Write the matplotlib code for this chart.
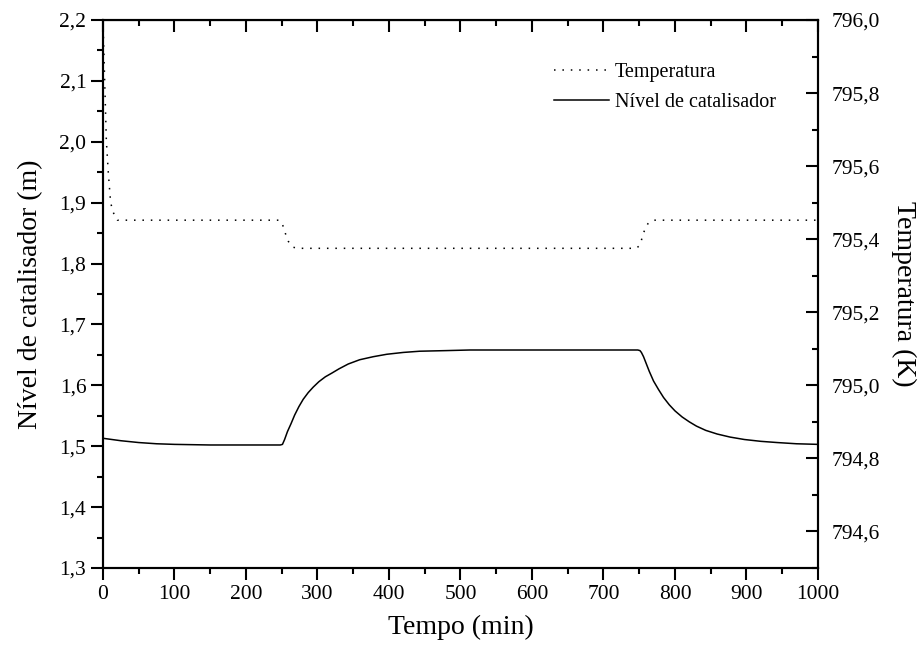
import matplotlib
matplotlib.use("Agg")
import matplotlib.pyplot as plt
import numpy as np
from matplotlib.ticker import FuncFormatter, MultipleLocator

plt.rcParams['font.family'] = ['Liberation Serif', 'DejaVu Serif']

# temperature (K)
temp_t = [0, 2.4, 4.7, 7.5, 10.7, 14, 17, 20, 246, 250, 253, 256, 259, 262, 266, 272,
          746, 750, 753, 756, 759, 762, 766, 772, 1000]
temp_k = [796.0, 795.83, 795.67, 795.58, 795.50, 795.475, 795.462, 795.452, 795.452,
          795.445, 795.43, 795.41, 795.395, 795.385, 795.378, 795.375,
          795.375, 795.382, 795.397, 795.417, 795.432, 795.442, 795.449, 795.452, 795.452]

# catalyst level (m)
lvl_t = [0, 25, 50, 75, 100, 150, 200, 248, 251, 254, 258, 263, 268, 274, 280, 287, 294,
         302, 311, 320, 330, 343, 359, 378, 397, 420, 443, 480, 513, 569, 650, 748,
         751, 753, 756, 759, 764, 770, 777, 784, 792, 800, 810, 820, 830, 843, 859, 877,
         897, 920, 943, 970, 1000]
lvl_m = [1.513, 1.509, 1.506, 1.504, 1.503, 1.502, 1.502, 1.502, 1.503, 1.511, 1.524,
         1.537, 1.551, 1.565, 1.577, 1.588, 1.597, 1.606, 1.614, 1.620, 1.627, 1.635,
         1.642, 1.647, 1.651, 1.654, 1.656, 1.657, 1.658, 1.658, 1.658, 1.658,
         1.657, 1.654, 1.647, 1.638, 1.623, 1.607, 1.593, 1.580, 1.568, 1.558, 1.548,
         1.540, 1.533, 1.526, 1.520, 1.515, 1.511, 1.508, 1.506, 1.504, 1.503]

fig = plt.figure(figsize=(9.22, 6.53), dpi=100)
ax = fig.add_axes([0.1117, 0.1302, 0.7755, 0.8392])
ax2 = ax.twinx()

l_temp, = ax2.plot(temp_t, temp_k, color='black', lw=1.1, linestyle=(0, (1, 4.5)),
                   label='Temperatura')
l_lvl, = ax.plot(lvl_t, lvl_m, color='black', lw=1.1, label='Nível de catalisador')

ax.set_xlim(0, 1000)
ax.set_ylim(1.3, 2.2)
ax2.set_ylim(794.5, 796.0)

comma = lambda fmt: FuncFormatter(lambda v, p: (fmt % v).replace('.', ','))
ax.xaxis.set_major_locator(MultipleLocator(100))
ax.xaxis.set_minor_locator(MultipleLocator(50))
ax.yaxis.set_major_locator(MultipleLocator(0.1))
ax.yaxis.set_minor_locator(MultipleLocator(0.05))
ax.yaxis.set_major_formatter(comma('%.1f'))
ax2.yaxis.set_major_locator(MultipleLocator(0.2))
ax2.yaxis.set_minor_locator(MultipleLocator(0.1))
ax2.yaxis.set_major_formatter(FuncFormatter(
    lambda v, p: ('%.1f' % v).replace('.', ',') if v > 794.55 else ''))

ax.tick_params(axis='x', which='both', direction='out', top=False, labelsize=15.5, width=1.5)
ax.tick_params(axis='y', which='both', direction='out', right=False, labelsize=15.5, width=1.5)
ax.tick_params(which='major', length=8.5)
ax.tick_params(which='minor', length=4)
ax2.tick_params(axis='y', which='both', direction='in', labelsize=15.5, width=1.5, pad=10)
ax2.tick_params(which='major', length=8.5)
ax2.tick_params(which='minor', length=4)

# inward ticks along the top
axt = ax.secondary_xaxis('top')
axt.xaxis.set_major_locator(MultipleLocator(100))
axt.xaxis.set_minor_locator(MultipleLocator(50))
axt.tick_params(which='both', direction='in', labeltop=False, width=1.5)
axt.tick_params(which='major', length=8.5)
axt.tick_params(which='minor', length=4)

for a in (ax, ax2):
    for s in a.spines.values():
        s.set_linewidth(1.5)

ax.set_xlabel('Tempo (min)', fontsize=20, labelpad=8)
ax.set_ylabel('Nível de catalisador (m)', fontsize=20, labelpad=12)
ax2.set_ylabel('Temperatura (K)', fontsize=20, rotation=-90, labelpad=26)

ax2.legend([l_temp, l_lvl], ['Temperatura', 'Nível de catalisador'], frameon=False,
           fontsize=14.5, loc='upper right', bbox_to_anchor=(0.966, 0.955),
           handlelength=2.7, handletextpad=0.3, labelspacing=0.55)

fig.savefig('out.png', dpi=100)
